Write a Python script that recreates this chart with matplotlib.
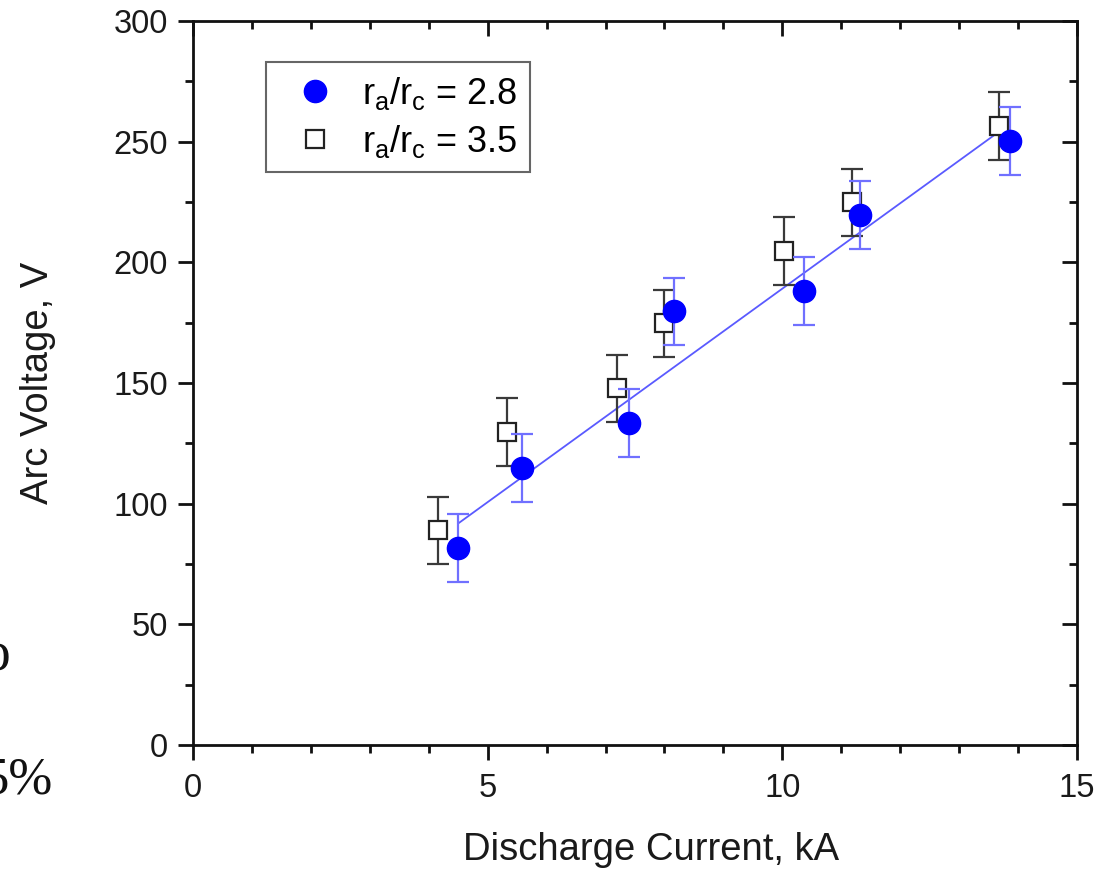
import matplotlib
matplotlib.use("Agg")
import matplotlib.pyplot as plt
from matplotlib.ticker import MultipleLocator
from matplotlib.lines import Line2D

plt.rcParams['font.family'] = ['Liberation Sans', 'DejaVu Sans']
plt.rcParams['mathtext.fontset'] = 'custom'
plt.rcParams['mathtext.rm'] = 'Liberation Sans'
plt.rcParams['mathtext.it'] = 'Liberation Sans'

# Data: r_a/r_c = 2.8 (blue circles)
current_28 = [4.49, 5.59, 7.39, 8.16, 10.36, 11.31, 13.86]
voltage_28 = [81.6, 114.7, 133.5, 179.7, 188.2, 219.6, 250.3]
err_28 = [14, 14, 14, 14, 14, 14, 14]

# Data: r_a/r_c = 3.5 (open squares)
current_35 = [4.15, 5.32, 7.20, 7.99, 10.02, 11.19, 13.68]
voltage_35 = [88.9, 129.6, 147.8, 174.7, 204.8, 224.8, 256.5]
err_35 = [14, 14, 14, 14, 14, 14, 14]

# Linear fit line endpoints
fit_x = [4.50, 13.85]
fit_y = [91.8, 257.2]

x_ticks = [0, 5, 10, 15]
y_ticks = [0, 50, 100, 150, 200, 250, 300]

fig = plt.figure(figsize=(10.98, 8.72), dpi=100)
ax = fig.add_axes([193/1098, 1-745/872, (1077-193)/1098, (745-21)/872])

blue = '#0000ff'
ax.plot(fit_x, fit_y, color='#5a5aff', lw=1.3, zorder=2)

ax.errorbar(current_35, voltage_35, yerr=err_35, fmt='none', ecolor='#3a3a3a',
            elinewidth=1.6, capsize=8, capthick=1.6, zorder=3)
ax.plot(current_35, voltage_35, ls='none', marker='s', ms=13.5, mfc='white',
        mec='#222222', mew=1.6, zorder=4)

ax.errorbar(current_28, voltage_28, yerr=err_28, fmt='none', ecolor='#7070ff',
            elinewidth=1.6, capsize=8, capthick=1.6, zorder=5)
ax.plot(current_28, voltage_28, ls='none', marker='o', ms=16, mfc=blue,
        mec=blue, zorder=6)

ax.set_xlim(0, 15)
ax.set_ylim(0, 300)
ax.set_xticks(x_ticks)
ax.set_yticks(y_ticks)
ax.xaxis.set_minor_locator(MultipleLocator(1))
ax.yaxis.set_minor_locator(MultipleLocator(25))

for s in ax.spines.values():
    s.set_linewidth(2.0)
    s.set_color('#111111')

ax.tick_params(which='both', direction='out', top=False, right=False,
               width=2.0, color='#111111', labelsize=23.5, labelcolor='#1a1a1a')
ax.tick_params(which='major', length=11)
ax.tick_params(which='minor', length=6)
ax.tick_params(axis='y', pad=7)
ax.tick_params(axis='x', pad=9)

# Inward ticks on top and right
ax2 = ax.secondary_xaxis('top')
ax2.set_xticks(x_ticks)
ax2.xaxis.set_minor_locator(MultipleLocator(1))
ax2.tick_params(which='both', direction='in', width=2.0, color='#111111', labeltop=False)
ax2.tick_params(which='major', length=11)
ax2.tick_params(which='minor', length=6)
ax3 = ax.secondary_yaxis('right')
ax3.set_yticks(y_ticks)
ax3.yaxis.set_minor_locator(MultipleLocator(25))
ax3.tick_params(which='both', direction='in', width=2.0, color='#111111', labelright=False)
ax3.tick_params(which='major', length=11)
ax3.tick_params(which='minor', length=6)

ax.set_xlabel('Discharge Current, kA', fontsize=27.5, color='#1a1a1a')
ax.xaxis.set_label_coords(0.518, -0.12)
ax.set_ylabel('Arc Voltage, V', fontsize=27.5, color='#1a1a1a')
ax.yaxis.set_label_coords(-0.155, 0.5)

handles = [
    Line2D([], [], ls='none', marker='o', ms=16, mfc=blue, mec=blue),
    Line2D([], [], ls='none', marker='s', ms=13.5, mfc='white', mec='#222222', mew=1.6),
]
labels = [r'r$_\mathregular{a}$/r$_\mathregular{c}$ = 2.8',
          r'r$_\mathregular{a}$/r$_\mathregular{c}$ = 3.5']
leg = ax.legend(handles, labels, loc='upper left', bbox_to_anchor=(0.083, 0.943),
                fontsize=26, frameon=True, fancybox=False, framealpha=1,
                edgecolor='#666666', borderpad=0.35, handletextpad=0.3,
                labelspacing=0.3, handlelength=2.0, borderaxespad=0)
leg.get_frame().set_linewidth(1.5)

# Cropped page-text fragments on the left edge
fig.text(53/1098, 1-793/872, '5%', ha='right', va='baseline', fontsize=38,
         family='Liberation Serif', color='#111111')
fig.text(11/1098, 1-670/872, 'o', ha='right', va='baseline', fontsize=40,
         family='Liberation Serif', color='#111111')

fig.savefig('out.png', dpi=100)
